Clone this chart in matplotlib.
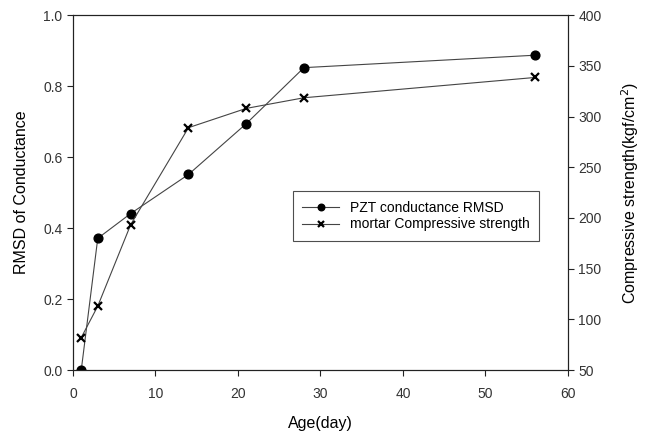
import matplotlib
matplotlib.use('Agg')
import matplotlib.pyplot as plt

plt.rcParams['font.family'] = ['Liberation Sans', 'DejaVu Sans']

# data
age_days = [1, 3, 7, 14, 21, 28, 56]
pzt_rmsd = [0.0, 0.371, 0.441, 0.551, 0.694, 0.852, 0.887]
mortar_strength = [82, 113, 193.5, 289, 308, 318.5, 338.5]

x_ticks = [0, 10, 20, 30, 40, 50, 60]
left_ticks = [0.0, 0.2, 0.4, 0.6, 0.8, 1.0]
right_ticks = [50, 100, 150, 200, 250, 300, 350, 400]

fig = plt.figure(figsize=(6.49, 4.32), dpi=100)
ax = fig.add_axes([0.1125, 0.1435, 0.7625, 0.8215])
ax2 = ax.twinx()

line_col = '#444444'
l1, = ax.plot(age_days, pzt_rmsd, color=line_col, lw=0.8, marker='o',
              markersize=6.3, markerfacecolor='black', markeredgecolor='black',
              label='PZT conductance RMSD')
l2, = ax2.plot(age_days, mortar_strength, color=line_col, lw=0.8, marker='x',
               markersize=5.5, markeredgewidth=1.6, markeredgecolor='black',
               label='mortar Compressive strength')

ax.set_xlim(0, 60)
ax.set_ylim(0, 1.0)
ax2.set_ylim(50, 400)
ax.set_xticks(x_ticks)
ax.set_yticks(left_ticks)
ax.set_yticklabels(['%.1f' % v for v in left_ticks])
ax2.set_yticks(right_ticks)

for a in (ax, ax2):
    a.tick_params(direction='out', length=4, width=0.8, labelsize=10,
                  colors='#222222', labelcolor='#333333')
    for s in a.spines.values():
        s.set_linewidth(0.8)
        s.set_color('#222222')
ax.tick_params(axis='x', pad=8)

ax.set_xlabel('Age(day)', fontsize=11.5, labelpad=11)
ax.set_ylabel('RMSD of Conductance', fontsize=11.5, labelpad=10)
ax2.set_ylabel('Compressive strength(kgf/cm$^2$)', fontsize=11.5, labelpad=13)

leg = ax2.legend(handles=[l1, l2], loc='lower left', bbox_to_anchor=(0.444, 0.363),
                 fontsize=10, frameon=True, fancybox=False, handlelength=2.6,
                 markerscale=0.75, borderpad=0.7, labelspacing=0.2, borderaxespad=0)
leg.get_frame().set_edgecolor('#222222')
leg.get_frame().set_linewidth(0.8)

fig.savefig('out.png', dpi=100)
